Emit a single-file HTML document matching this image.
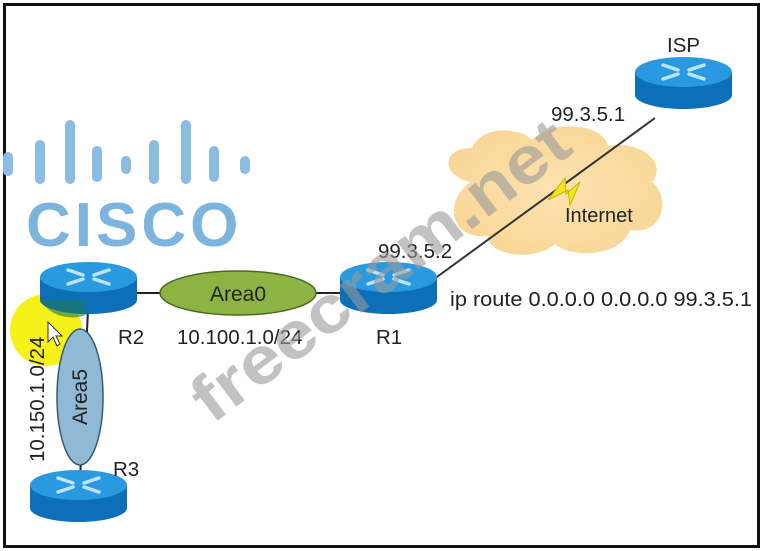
<!DOCTYPE html>
<html><head><meta charset="utf-8"><style>
html,body{margin:0;padding:0;background:#fff;}
svg{display:block;font-family:"Liberation Sans",sans-serif;}
</style></head><body>
<svg width="764" height="551" viewBox="0 0 764 551" xmlns="http://www.w3.org/2000/svg">
<defs>
<g id="rt">
 <path d="M0 15 L0 38 A48.5 14 0 0 0 97 38 L97 15 Z" fill="#0d6fb8"/>
 <ellipse cx="48.5" cy="15" rx="48.5" ry="15" fill="#2a9ae0"/>
 <g stroke="#bfe3fa" stroke-width="3.5" stroke-linecap="round" fill="none">
  <path d="M28 8 L43 13 M54 17 L69 22 M69 8 L54 13 M43 17 L28 22"/>
 </g>
</g>
<radialGradient id="cl" cx="0.5" cy="0.5" r="0.6"><stop offset="0" stop-color="#fde3b0"/><stop offset="1" stop-color="#f8d595"/></radialGradient>
</defs>
<rect x="0" y="0" width="764" height="551" fill="#fff"/>
<rect x="4.5" y="4.5" width="754" height="542" fill="none" stroke="#111" stroke-width="3"/>

<g fill="#8bbce2">
 <rect x="3" y="152" width="10" height="24" rx="5"/>
 <rect x="35" y="140" width="10" height="44" rx="5"/>
 <rect x="65" y="120" width="10" height="64" rx="5"/>
 <rect x="92" y="146" width="10" height="36" rx="5"/>
 <rect x="121" y="156" width="10" height="18" rx="5"/>
 <rect x="149" y="140" width="10" height="44" rx="5"/>
 <rect x="181" y="120" width="10" height="64" rx="5"/>
 <rect x="209" y="146" width="10" height="36" rx="5"/>
 <rect x="240" y="156" width="10" height="18" rx="5"/>
</g>
<text x="26" y="246" font-size="62" font-weight="bold" fill="#7db4dd" letter-spacing="4">CISCO</text>

<path d="M470 182 C442 176 440 148 472 148 C482 124 522 128 532 140 C552 118 604 124 608 146 C640 140 668 162 652 182 C672 198 662 236 630 230 C620 258 570 258 555 244 C535 262 488 256 488 236 C452 240 442 204 470 182 Z" fill="url(#cl)"/>

<line x1="430" y1="282" x2="655" y2="118" stroke="#333" stroke-width="2"/>
<path d="M548 200 L565 178 L566 194 L580 182 L570 205 L568 190 Z" fill="#f4e41a" stroke="#c8b400" stroke-width="1"/>
<line x1="137" y1="293" x2="340" y2="293" stroke="#222" stroke-width="2"/>
<line x1="88" y1="310" x2="80" y2="480" stroke="#222" stroke-width="2"/>

<circle cx="46" cy="330" r="36" fill="#f5f000" opacity="0.9"/>

<ellipse cx="238" cy="293" rx="78" ry="22" fill="#8db443" stroke="#4a6a20" stroke-width="1.5"/>
<text x="238" y="301" font-size="21" text-anchor="middle" fill="#222">Area0</text>
<ellipse cx="80" cy="397" rx="23" ry="68" fill="#90b9d6" stroke="#3a5870" stroke-width="1.5"/>
<text transform="translate(87,397) rotate(-90)" font-size="21" text-anchor="middle" fill="#222">Area5</text>

<use href="#rt" x="40" y="262"/>
<use href="#rt" x="340" y="262"/>
<use href="#rt" x="635" y="57"/>
<use href="#rt" x="30" y="470"/>
<path d="M40 300 A38 38 0 0 0 88 314 L82 300 Z" fill="#1a7a50" opacity="0.6"/>

<g font-size="20.5" fill="#222">
<text x="667" y="52">ISP</text>
<text x="551" y="121">99.3.5.1</text>
<text x="565" y="222" font-size="20">Internet</text>
<text x="378" y="258">99.3.5.2</text>
<text x="450" y="306" textLength="302" lengthAdjust="spacingAndGlyphs">ip route 0.0.0.0 0.0.0.0 99.3.5.1</text>
<text x="376" y="344">R1</text>
<text x="118" y="344">R2</text>
<text x="177" y="344">10.100.1.0/24</text>
<text x="113" y="476">R3</text>
<text transform="translate(44,462) rotate(-90)">10.150.1.0/24</text>
</g>
<path d="M48 322 L48 342 L53 337 L57 346 L60 344 L56 336 L62 336 Z" fill="#fff" stroke="#333" stroke-width="1"/>

<text transform="translate(212,425) rotate(-37)" font-size="66" font-weight="bold" fill="#9a9a9a" opacity="0.6" textLength="455" lengthAdjust="spacingAndGlyphs">freecram.net</text>
</svg>
</body></html>
